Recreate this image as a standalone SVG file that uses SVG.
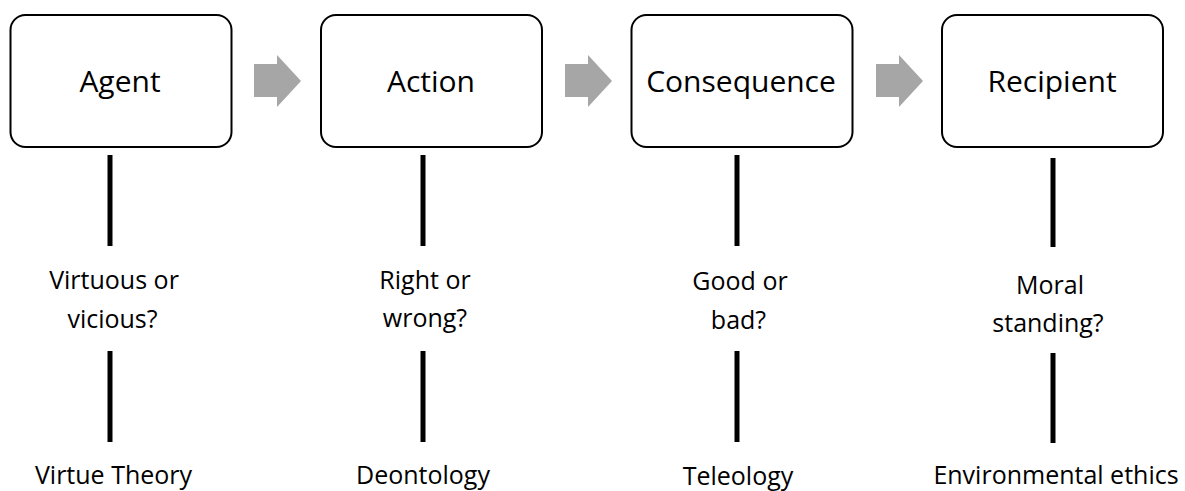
<svg xmlns="http://www.w3.org/2000/svg" width="1185" height="491" viewBox="0 0 1185 491">
<defs>
<style>
.box{fill:#fff;stroke:#000;stroke-width:2}
.lbl{font-family:"Open Sans","Liberation Sans",sans-serif;font-size:30px;fill:#000;text-anchor:middle}
.txt{font-family:"Open Sans","Liberation Sans",sans-serif;font-size:25px;fill:#000;text-anchor:middle}
.bar{stroke:#000;stroke-width:5}
.arr{fill:#A6A6A6}
</style>
<path id="arrow" class="arr" d="M0,9 H23 V0 L47,26 L23,52 V42 H0 Z"/>
</defs>
<rect width="1185" height="491" fill="#fff"/>
<g id="connectors">
<use href="#arrow" x="254" y="55"/>
<use href="#arrow" x="565" y="55"/>
<use href="#arrow" x="876" y="55"/>
<line class="bar" x1="110" y1="155" x2="110" y2="246"/>
<line class="bar" x1="110" y1="351" x2="110" y2="442"/>
<line class="bar" x1="423" y1="155" x2="423" y2="246"/>
<line class="bar" x1="423" y1="351" x2="423" y2="442"/>
<line class="bar" x1="737" y1="155" x2="737" y2="246"/>
<line class="bar" x1="737" y1="351" x2="737" y2="442"/>
<line class="bar" x1="1053" y1="158" x2="1053" y2="247"/>
<line class="bar" x1="1053" y1="353" x2="1053" y2="443"/>
</g>
<g id="agent">
<rect class="box" x="10.5" y="15" width="221" height="132" rx="15"/>
<text class="lbl" x="120" y="92">Agent</text>
</g>
<g id="action">
<rect class="box" x="321" y="15" width="221" height="132" rx="15"/>
<text class="lbl" x="431" y="92">Action</text>
</g>
<g id="consequence">
<rect class="box" x="631.5" y="15" width="221" height="132" rx="15"/>
<text class="lbl" x="741" y="92">Consequence</text>
</g>
<g id="recipient">
<rect class="box" x="942" y="15" width="221" height="132" rx="15"/>
<text class="lbl" x="1052" y="92">Recipient</text>
</g>
<g id="agent-question">
<text class="txt" x="114" y="289">Virtuous or</text>
<text class="txt" x="112.5" y="328">vicious?</text>
</g>
<g id="agent-theory"><text class="txt" x="113.5" y="484">Virtue Theory</text></g>
<g id="action-question">
<text class="txt" x="425" y="289">Right or</text>
<text class="txt" x="425" y="327">wrong?</text>
</g>
<g id="action-theory"><text class="txt" x="423" y="484">Deontology</text></g>
<g id="consequence-question">
<text class="txt" x="740" y="290">Good or</text>
<text class="txt" x="738.5" y="329">bad?</text>
</g>
<g id="consequence-theory"><text class="txt" x="738" y="485">Teleology</text></g>
<g id="recipient-question">
<text class="txt" x="1050" y="294">Moral</text>
<text class="txt" x="1048" y="332">standing?</text>
</g>
<g id="recipient-theory"><text class="txt" x="1056" y="484">Environmental ethics</text></g>
</svg>
